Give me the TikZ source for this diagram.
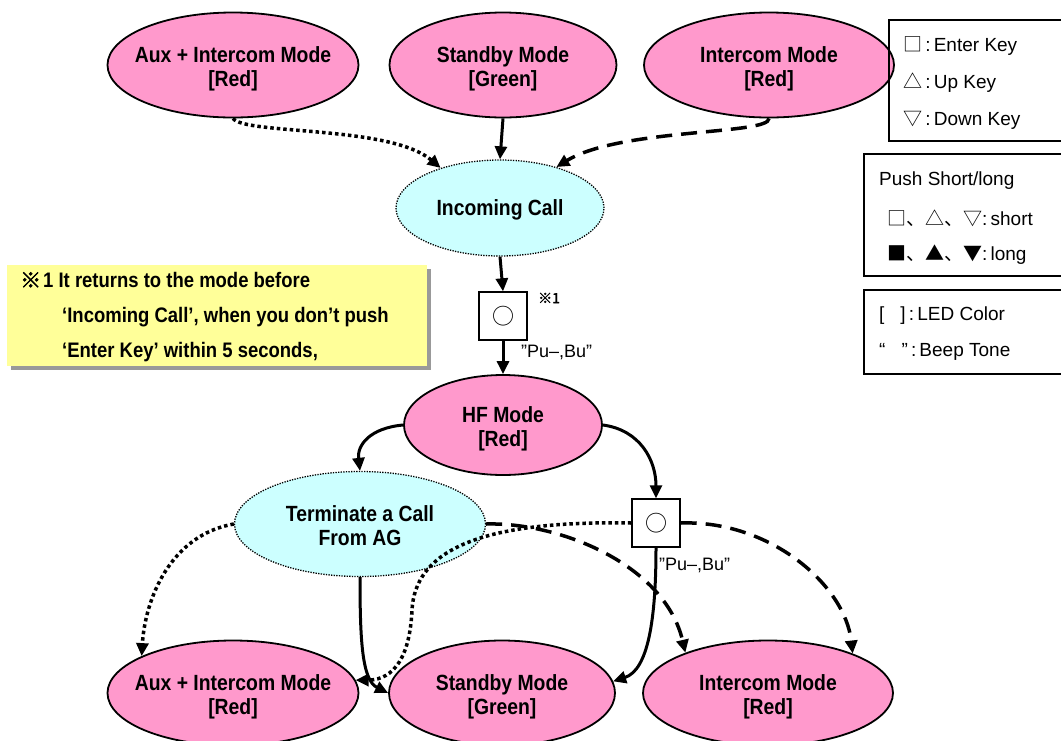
\documentclass[tikz,border=0pt]{standalone}
\usepackage{fontspec}
\setmainfont{Liberation Sans}
\newfontfamily\lblfont[FakeStretch=0.88]{Liberation Sans}
\newfontfamily\jp{Noto Sans CJK JP}
\newfontfamily\jpb[FakeBold=2.5]{Noto Sans CJK JP}
\usetikzlibrary{shapes.geometric,arrows.meta,shadows}
\definecolor{pinkc}{HTML}{FF99CC}
\definecolor{cyanc}{HTML}{CCFFFF}
\definecolor{yellowc}{HTML}{FFFF99}
\newcommand{\twol}[2]{\makebox[0pt][c]{\raisebox{-9.5pt}[0pt][0pt]{\begin{tabular}{@{}c@{}}#1\\\relax #2\end{tabular}}}}
\newcommand{\onel}[1]{\makebox[0pt][c]{\raisebox{-7.6pt}[0pt][0pt]{#1}}}
\begin{document}
\begin{tikzpicture}[x=1pt,y=-1pt,
  mode/.style={ellipse,draw,line width=1.8pt,fill=pinkc,inner sep=0pt,
    font=\lblfont\bfseries\fontsize{22}{24}\selectfont},
  event/.style={ellipse,draw,line width=1.3pt,dash pattern=on 1.3pt off 1.3pt,fill=cyanc,inner sep=0pt,
    font=\lblfont\bfseries\fontsize{22}{24}\selectfont},
  keybox/.style={draw,line width=1.4pt,fill=white,minimum size=48pt,inner sep=0pt,font=\jp\fontsize{22}{22}\selectfont},
  tip/.style={-{Triangle[length=13pt,width=12pt]}},
  solidarrow/.style={tip,line width=3pt},
  dotarrow/.style={tip,line width=3.5pt,dash pattern=on 3.5pt off 3pt},
  dasharrow/.style={tip,line width=3.5pt,dash pattern=on 16pt off 9pt},
  legendbox/.style={draw,line width=1.2pt},
  legtext/.style={anchor=west,inner sep=0pt,font=\fontsize{19}{19}\selectfont},
  beep/.style={anchor=west,inner sep=0pt,font=\fontsize{18}{18}\selectfont},
  notetext/.style={anchor=west,inner sep=0pt,font=\lblfont\bfseries\fontsize{21}{21}\selectfont}
]
\useasboundingbox (0,0) rectangle (1061,740);
\fill[white] (0,0) rectangle (1061,740);

% top modes
\node[mode,minimum width=251pt,minimum height=105pt] (auxT) at (233,65) {\twol{Aux + Intercom Mode}{[Red]}};
\node[mode,minimum width=227pt,minimum height=105pt] (stT) at (503,65) {\twol{Standby Mode}{[Green]}};
\node[mode,minimum width=250pt,minimum height=105pt] (intT) at (769,65) {\twol{Intercom Mode}{[Red]}};

\node[event,minimum width=208pt,minimum height=96pt] (inc) at (500,208) {\onel{Incoming Call}};

\node[keybox] (box1) at (503,316) {○};
\node[anchor=west,inner sep=0pt,font=\jpb\fontsize{14}{14}\selectfont] (ref1) at (538,298) {※1};
\node[beep] (pb1) at (521,352) {”Pu–,Bu”};

\node[mode,minimum width=198pt,minimum height=100pt] (hf) at (503,425) {\twol{HF Mode}{[Red]}};

\node[event,minimum width=251pt,minimum height=105pt] (term) at (360,524) {\twol{Terminate a Call}{From AG}};

\node[keybox] (box2) at (656,523) {○};
\node[beep] (pb2) at (659,565) {”Pu–,Bu”};

% bottom modes
\node[mode,minimum width=251pt,minimum height=105pt] (auxB) at (233,693) {\twol{Aux + Intercom Mode}{[Red]}};
\node[mode,minimum width=226pt,minimum height=105pt] (stB) at (502,693) {\twol{Standby Mode}{[Green]}};
\node[mode,minimum width=250pt,minimum height=105pt] (intB) at (768,693) {\twol{Intercom Mode}{[Red]}};

% connectors top
\draw[dotarrow] (auxT.south) .. controls (245,135) and (390,125) .. (inc.146);
\draw[solidarrow] (stT.south) -- (inc.north);
\draw[dasharrow] (intT.south) .. controls (770,135) and (620,128) .. (inc.36);
\draw[solidarrow] (inc.south) -- (box1.north);
\draw[solidarrow] (box1.south) -- (hf.north);

% from HF
\draw[solidarrow] (hf.west) .. controls (370,428) and (357,445) .. (term.north);
\draw[solidarrow] (hf.east) .. controls (640,430) and (656,460) .. (box2.north);

% from Terminate
\draw[dotarrow] (term.west) .. controls (170,535) and (145,600) .. (auxB.158);
\draw[solidarrow] (term.south) .. controls (360,640) and (362,680) .. (stB.west);
\draw[dasharrow] (term.east) .. controls (560,522) and (665,565) .. (intB.154);

% from box2
\draw[dotarrow] (box2.west) .. controls (470,520) and (415,555) .. (412,610) .. controls (410,655) and (395,680) .. (auxB.6);
\draw[solidarrow] (box2.south) .. controls (656,620) and (648,670) .. (stB.6);
\draw[dasharrow] (box2.east) .. controls (770,520) and (845,585) .. (intB.25);

% note
\node[draw=none,fill=yellowc,minimum width=420pt,minimum height=101pt,anchor=north west,inner sep=0pt,
  drop shadow={shadow xshift=4pt,shadow yshift=-4pt,fill=gray!80,opacity=1}] (note) at (7,265) {};
\node[anchor=west,inner sep=0pt,font=\jpb\fontsize{21}{21}\selectfont] (nm) at (20,280) {※};
\node[notetext] (n1) at (43,280) {1 It returns to the mode before};
\node[notetext] (n2) at (62,317) {‘Incoming Call’, when you don’t push};
\node[notetext] (n3) at (62,352) {‘Enter Key’ within 5 seconds,};

% legends
\draw[legendbox] (1064,20) -- (889,20) -- (889,141) -- (1064,141);
\node[legtext] (l1) at (903,46) {{\jp □}\,:\,Enter Key};
\node[legtext] (l2) at (903,83) {{\jp △}\,:\,Up Key};
\node[legtext] (l3) at (903,120) {{\jp ▽}\,:\,Down Key};

\draw[legendbox] (1064,154) -- (864,154) -- (864,276) -- (1064,276);
\node[legtext] (l4) at (879,181) {Push Short/long};
\node[legtext] (l5) at (887,218) {{\jp □、△、▽}:\,short};
\node[legtext] (l6) at (887,255) {{\jp ■、▲、▼}:\,long};

\draw[legendbox] (1064,290) -- (864,290) -- (864,374) -- (1064,374);
\node[legtext] (l7) at (879,316) {[\hspace{16pt}]\,:\,LED Color};
\node[legtext] (l8) at (879,352) {“\hspace{16pt}”\,:\,Beep Tone};
\end{tikzpicture}
\end{document}
